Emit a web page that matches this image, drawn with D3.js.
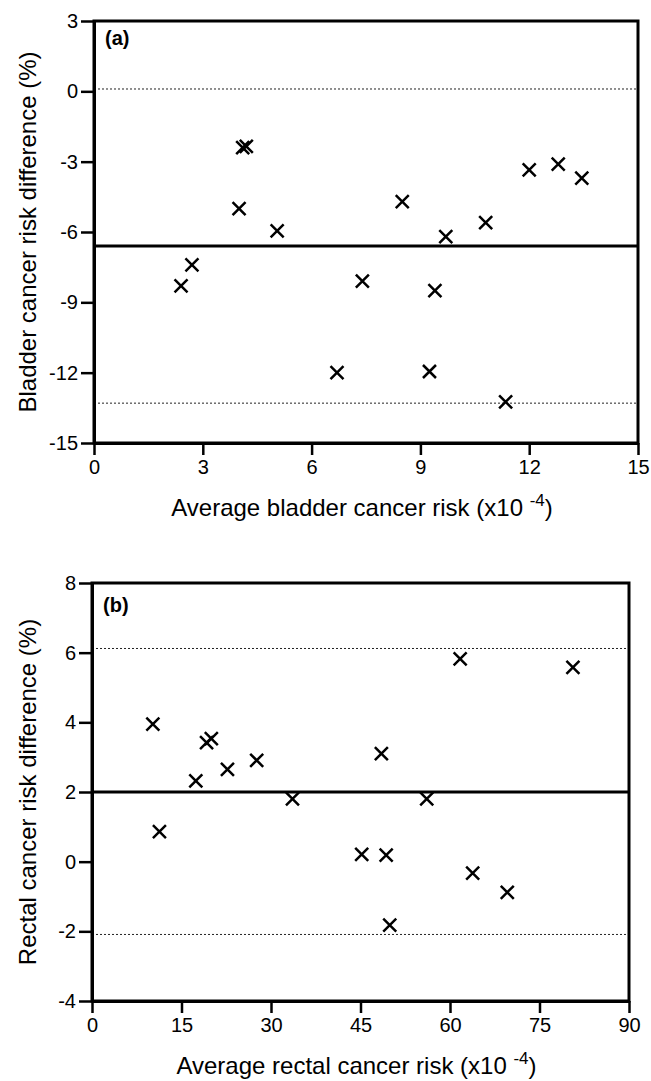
<!DOCTYPE html>
<html>
<head>
<meta charset="utf-8">
<script src="https://cdn.jsdelivr.net/npm/d3@7"></script>
<style>
  body { margin: 0; background: #fff; }
  text { font-family: "Liberation Sans", Arial, sans-serif; fill: #000; }
</style>
</head>
<body>
<div id="display"></div>
<script>
// data
const bladderAvg  = [2.4, 2.7, 4.0, 4.1, 4.2, 5.05, 6.7, 7.4, 8.5, 9.25, 9.4, 9.7, 10.8, 11.35, 12.0, 12.8, 13.45];
const bladderDiff = [-8.3, -7.4, -5.0, -2.4, -2.35, -5.95, -12.0, -8.1, -4.7, -11.95, -8.5, -6.2, -5.6, -13.25, -3.35, -3.1, -3.7];
const bladderMean = -6.6;
const bladderLimits = [0.1, -13.3];
const bladderXTicks = [0, 3, 6, 9, 12, 15];
const bladderYTicks = [3, 0, -3, -6, -9, -12, -15];

const rectalAvg  = [10.2, 11.3, 17.4, 19.2, 20.0, 22.7, 27.6, 33.6, 45.2, 48.5, 49.3, 49.9, 56.1, 61.7, 63.8, 69.6, 80.6];
const rectalDiff = [3.95, 0.86, 2.32, 3.42, 3.53, 2.65, 2.91, 1.8, 0.21, 3.1, 0.19, -1.82, 1.8, 5.82, -0.33, -0.88, 5.58];
const rectalMean = 2.0;
const rectalLimits = [6.12, -2.09];
const rectalXTicks = [0, 15, 30, 45, 60, 75, 90];
const rectalYTicks = [8, 6, 4, 2, 0, -2, -4];

const svg = d3.select('#display')
  .append('svg')
  .attr('width', 651)
  .attr('height', 1081);

function BlandAltman(opt){
  const x = d3.scaleLinear()
    .domain(d3.extent(opt.xTicks))
    .range([opt.left, opt.right]);
  const y = d3.scaleLinear()
    .domain(d3.extent(opt.yTicks))
    .range([opt.bottom, opt.top]);

  const g = svg.append('g');

  // limits of agreement (dotted) and mean difference (solid)
  g.selectAll('.limit')
    .data(opt.limits)
    .join('line')
    .attr('x1', opt.left)
    .attr('x2', opt.right)
    .attr('y1', d => y(d))
    .attr('y2', d => y(d))
    .attr('stroke', '#222')
    .attr('stroke-width', 1)
    .attr('stroke-dasharray', '2,2');

  g.append('line')
    .attr('x1', opt.left)
    .attr('x2', opt.right)
    .attr('y1', y(opt.mean))
    .attr('y2', y(opt.mean))
    .attr('stroke', '#000')
    .attr('stroke-width', 3);

  // frame
  g.append('rect')
    .attr('x', opt.left)
    .attr('y', opt.top)
    .attr('width', opt.right - opt.left)
    .attr('height', opt.bottom - opt.top)
    .attr('fill', 'none')
    .attr('stroke', '#000')
    .attr('stroke-width', 3);

  const xAxis = g.append('g')
    .attr('transform', `translate(0,${opt.bottom})`)
    .call(d3.axisBottom(x).tickValues(opt.xTicks).tickSize(12).tickSizeOuter(0).tickPadding(5).tickFormat(d => String(d)));
  const yAxis = g.append('g')
    .attr('transform', `translate(${opt.left},0)`)
    .call(d3.axisLeft(y).tickValues(opt.yTicks).tickSize(13).tickSizeOuter(0).tickPadding(3).tickFormat(d => String(d)));

  [xAxis, yAxis].forEach(a => {
    a.select('.domain').attr('stroke-width', 3);
    a.selectAll('.tick line').attr('stroke-width', 2.5);
    a.selectAll('.tick text')
      .attr('font-size', '20px')
      .attr('font-family', '"Liberation Sans", Arial, sans-serif');
  });

  // crosses
  const s = 6.5;
  const pts = opt.xs.map((v, i) => [x(v), y(opt.ys[i])]);
  g.selectAll('.pt')
    .data(pts)
    .join('path')
    .attr('d', d => `M${d[0]-s},${d[1]-s}L${d[0]+s},${d[1]+s}M${d[0]-s},${d[1]+s}L${d[0]+s},${d[1]-s}`)
    .attr('stroke', '#000')
    .attr('stroke-width', 2.5)
    .attr('fill', 'none');

  // panel tag
  g.append('text')
    .attr('x', opt.left + 11)
    .attr('y', opt.tagY)
    .attr('font-size', '20px')
    .attr('font-weight', 'bold')
    .text(opt.tag);

  // axis titles
  const xt = g.append('text')
    .attr('x', (opt.left + opt.right) / 2 - 4)
    .attr('y', opt.bottom + 73)
    .attr('text-anchor', 'middle')
    .attr('font-size', '24px')
    .text(opt.xTitle + ' (x10 ');
  xt.append('tspan')
    .attr('font-size', '17px')
    .attr('dy', -10)
    .text('-4');
  xt.append('tspan')
    .attr('dy', 10)
    .text(')');

  g.append('text')
    .attr('transform', `translate(36,${(opt.top + opt.bottom) / 2}) rotate(-90)`)
    .attr('text-anchor', 'middle')
    .attr('font-size', '24px')
    .text(opt.yTitle);
}

new BlandAltman({
  left: 94, right: 638, top: 21, bottom: 443,
  xs: bladderAvg, ys: bladderDiff,
  mean: bladderMean, limits: bladderLimits,
  xTicks: bladderXTicks, yTicks: bladderYTicks,
  tag: '(a)', tagY: 45,
  xTitle: 'Average bladder cancer risk',
  yTitle: 'Bladder cancer risk difference (%)'
});

new BlandAltman({
  left: 92, right: 629, top: 583, bottom: 1001,
  xs: rectalAvg, ys: rectalDiff,
  mean: rectalMean, limits: rectalLimits,
  xTicks: rectalXTicks, yTicks: rectalYTicks,
  tag: '(b)', tagY: 612,
  xTitle: 'Average rectal cancer risk',
  yTitle: 'Rectal cancer risk difference (%)'
});
</script>
</body>
</html>
